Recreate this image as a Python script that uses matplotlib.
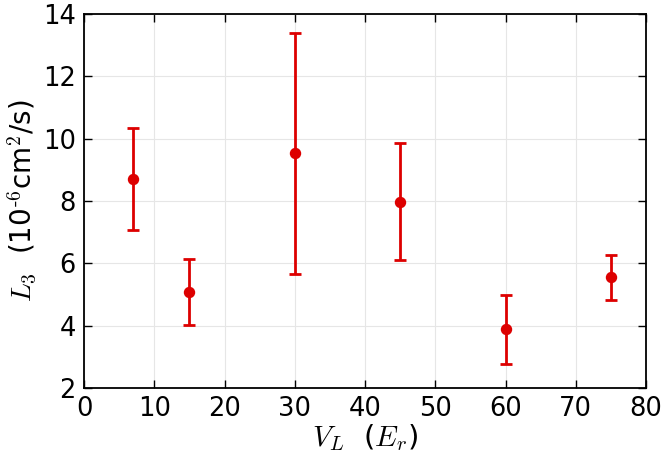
import matplotlib
matplotlib.use("Agg")
import matplotlib.pyplot as plt

V_L = [7, 15, 30, 45, 60, 75]
L3 = [8.70, 5.07, 9.53, 7.98, 3.88, 5.55]
L3_err = [1.64, 1.06, 3.86, 1.88, 1.10, 0.72]
xticks = [0, 10, 20, 30, 40, 50, 60, 70, 80]
yticks = [2, 4, 6, 8, 10, 12, 14]

plt.rcParams['mathtext.fontset'] = 'cm'
fig = plt.figure(figsize=(6.65, 4.59), dpi=100)
ax = fig.add_axes([84/665, 1-388/459, (646-84)/665, (388-14)/459])
ax.errorbar(V_L, L3, yerr=L3_err, fmt='o', color='#dd0000', ms=7.2,
            elinewidth=2, capsize=4, capthick=2, zorder=3)
ax.set_xlim(0, 80)
ax.set_ylim(2, 14)
ax.set_xticks(xticks)
ax.set_yticks(yticks)
ax.tick_params(direction='in', top=True, right=True, labelsize=18.5, length=6, width=1, pad=6)
ax.grid(True, color='#e6e6e6', linewidth=0.8)
ax.set_axisbelow(True)
for s in ax.spines.values():
    s.set_linewidth(1.3)
ax.set_xlabel(r'$V_L$  ($E_r$)', fontsize=21, labelpad=0)
ax.set_ylabel(r'$L_3$  (10$^{\text{-}\mathsf{6}}$cm$^{\mathsf{2}}$/s)',
              fontsize=20, labelpad=3)
fig.savefig('out.png', dpi=100)
